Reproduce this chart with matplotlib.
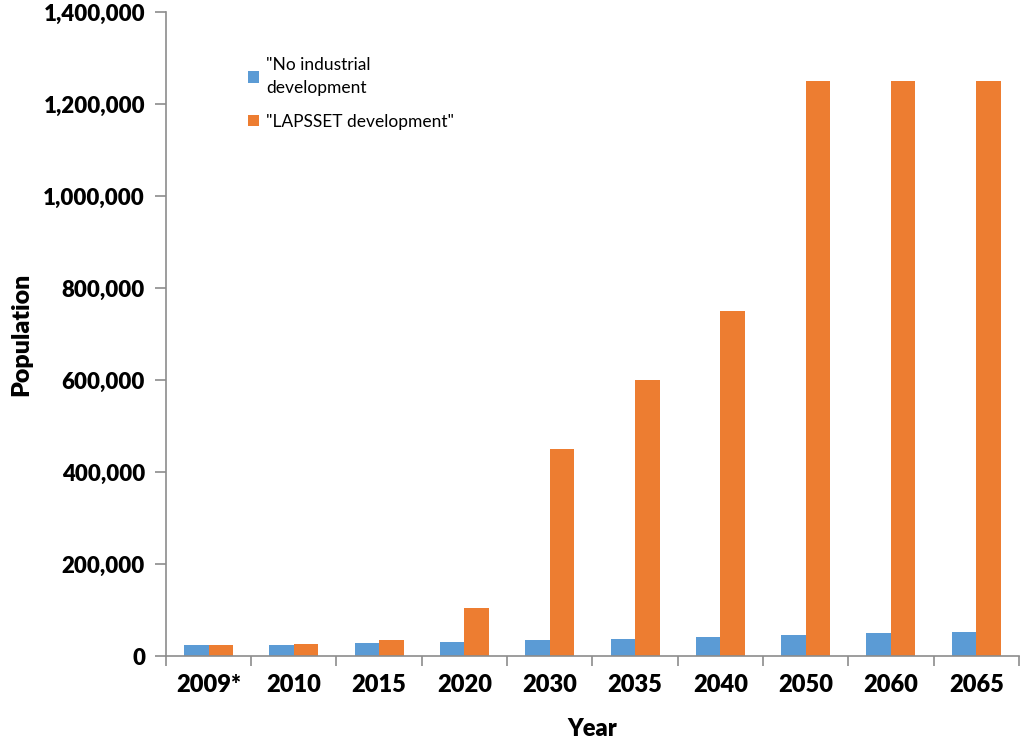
import numpy as np
import matplotlib.pyplot as plt
from matplotlib.ticker import FuncFormatter

years = ["2009*", "2010", "2015", "2020", "2030", "2035", "2040", "2050", "2060", "2065"]
no_industrial = [24000, 24000, 28000, 30000, 35000, 37000, 41000, 45000, 50000, 53000]
lapsset = [24000, 27000, 35000, 105000, 450000, 600000, 750000, 1250000, 1250000, 1250000]

blue = "#5B9BD5"
orange = "#ED7D31"
grey = "#8C8C8C"

plt.rcParams['font.family'] = ['Lato', 'DejaVu Sans']

fig = plt.figure(figsize=(10.24, 7.39), dpi=100)
ax = fig.add_axes([0.162, 0.1123, 0.833, 0.8715])

x = np.arange(len(years))
w = 0.2875
ax.bar(x - w / 2, no_industrial, w, color=blue, label="\"No industrial\ndevelopment")
ax.bar(x + w / 2, lapsset, w, color=orange, label="\"LAPSSET development\"")

ax.set_xlim(-0.5, len(years) - 0.5)
ax.set_ylim(0, 1400000)
ax.set_yticks(np.arange(0, 1400001, 200000))
ax.yaxis.set_major_formatter(FuncFormatter(lambda v, p: f"{int(v):,}"))

ax.set_xticks(x)
ax.set_xticklabels(years, fontsize=17, fontweight='heavy')
ax.set_xticks(np.arange(-0.5, len(years), 1), minor=True)
ax.tick_params(axis='x', which='major', length=0, pad=13)
ax.tick_params(axis='x', which='minor', length=7, color=grey, width=1.2)
ax.tick_params(axis='y', length=8, color=grey, width=1.2, labelsize=16, pad=7)
for lab in ax.get_yticklabels():
    lab.set_fontweight('heavy')

for s in ['top', 'right']:
    ax.spines[s].set_visible(False)
for s in ['left', 'bottom']:
    ax.spines[s].set_color(grey)
    ax.spines[s].set_linewidth(1.2)

ax.set_xlabel("Year", fontsize=17, fontweight='heavy', labelpad=16)
ax.set_ylabel("Population", fontsize=18, fontweight='heavy', labelpad=8)

ax.legend(loc='upper left', bbox_to_anchor=(0.078, 0.955), frameon=False, fontsize=12.5,
          handlelength=0.65, handleheight=0.65, handletextpad=0.4, labelspacing=1.0)
leg = ax.get_legend()
for t in leg.get_texts():
    t.set_linespacing(1.6)

fig.savefig("out.png", dpi=100)
